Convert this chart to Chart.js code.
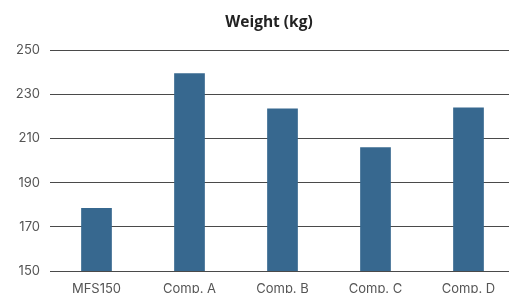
<!DOCTYPE html>
<html>
<head>
<meta charset="utf-8">
<script src="https://cdn.jsdelivr.net/npm/chart.js@4"></script>
<style>
  html, body { margin: 0; padding: 0; background: #fff; overflow: hidden; }
  #wrap { position: absolute; left: 0; top: 0; width: 538px; height: 303px; }
  #chart-title {
    position: absolute; left: 0; top: 10px; width: 538px;
    text-align: center; line-height: 18px;
    font: bold 15.5px 'Open Sans', sans-serif; color: #222;
  }
</style>
</head>
<body>
<div id="wrap">
  <canvas id="weight-chart" width="538" height="303"></canvas>
  <div id="chart-title">Weight (kg)</div>
</div>
<script>
const categories = ['MFS150', 'Comp. A', 'Comp. B', 'Comp. C', 'Comp. D'];
const weights = [178.5, 239.5, 223.5, 206, 224];
const yMin = 150;
const yMax = 250;
const yStep = 20;

const el = document.getElementById('weight-chart');

new Chart(el.getContext('2d'), {
    type: 'bar',
    data: {
        labels: categories,
        datasets: [{
            label: 'Weight (kg)',
            data: weights,
            backgroundColor: '#37688f',
            borderWidth: 0,
            categoryPercentage: 1,
            barPercentage: 0.33
        }]
    },
    options: {
        responsive: false,
        animation: false,
        // title is the html div above, so leave room for it here
        layout: { padding: { top: 50, left: 15, right: 23, bottom: 2 } },
        plugins: {
            legend: { display: false },
            tooltip: { enabled: false },
            title: { display: false }
        },
        scales: {
            y: {
                min: yMin,
                max: yMax,
                afterFit(scale) { scale.width = 35; },
                ticks: {
                    stepSize: yStep,
                    padding: 10,
                    color: '#555',
                    font: { family: 'Inter', size: 13 }
                },
                grid: { color: '#4a4a4a', drawTicks: false, lineWidth: 1 },
                border: { display: false }
            },
            x: {
                // keep the axis height fixed so the labels fall at the bottom edge
                afterFit(scale) { scale.height = 30; },
                ticks: {
                    padding: 10,
                    color: '#555',
                    font: { family: 'Inter', size: 13 }
                },
                grid: { display: false, drawTicks: false },
                border: { display: false }
            }
        }
    }
});
</script>
</body>
</html>
